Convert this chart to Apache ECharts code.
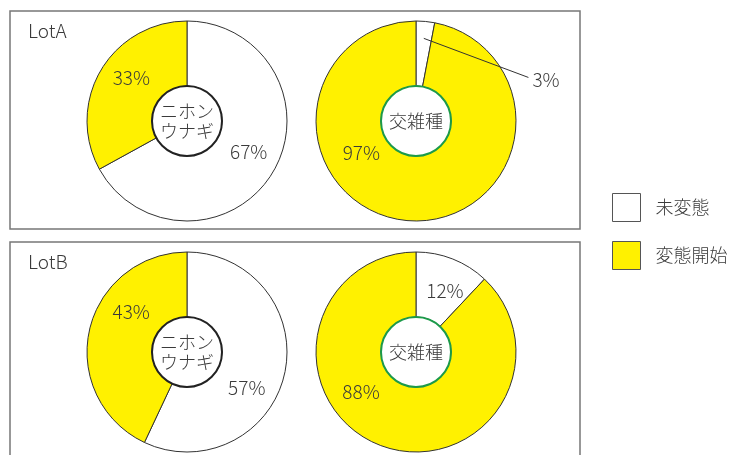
<!DOCTYPE html>
<html>
<head>
<meta charset="utf-8">
<script src="https://cdn.jsdelivr.net/npm/echarts@6/dist/echarts.min.js"></script>
<style>
  html, body { margin: 0; padding: 0; background: #fff; }
  #chart { width: 731px; height: 455px; }
</style>
</head>
<body>
<div id="chart"></div>
<script>
// Metamorphosis status of eels by lot and species (percent of individuals)
const lots = ['LotA', 'LotB'];
const species = ['ニホン\nウナギ', '交雑種'];
const statusNames = ['未変態', '変態開始'];
// values are listed per species: [ニホンウナギ, 交雑種]
const lotANotMetamorphosed = [67, 3];
const lotAMetamorphosing = [33, 97];
const lotBNotMetamorphosed = [57, 12];
const lotBMetamorphosing = [43, 88];

const FONT = '"Noto Sans CJK JP", "Noto Sans", sans-serif';
const TEXT = '#3a3a3a';
const statusColors = ['#ffffff', '#fff100'];
const coreBorders = ['#222222', '#1c9a4a'];

// small nudges for the percentage labels: [dx, dy] per slice
const labelNudges = [
  [[1, -5], [5, -7]],
  [[0, 0], [-48, -38]],
  [[-9, 20], [13, -25]],
  [[3, 4], [-29, -26]]
];
// callout label for thin slices: offset of the text (left, middle) from the slice's outer edge
const CALLOUT_OFFSET = [107, 58];

function midPoint(layout, r) {
  const a = (layout.startAngle + layout.endAngle) / 2;
  return [layout.cx + r * Math.cos(a), layout.cy + r * Math.sin(a)];
}

function ringSeries(center, values, nudges, calloutIndex) {
  return {
    type: 'pie',
    center: center,
    radius: [35, 100],
    startAngle: 90,
    clockwise: true,
    avoidLabelOverlap: false,
    silent: true,
    animation: false,
    itemStyle: { borderColor: '#333', borderWidth: 1 },
    label: {
      show: true, position: 'inside', formatter: '{c}%',
      fontSize: 19, fontWeight: 300, color: TEXT, fontFamily: FONT
    },
    labelLine: { show: false },
    data: statusNames.map((n, i) => {
      const d = { name: n, value: values[i], itemStyle: { color: statusColors[i] } };
      if (i === calloutIndex) d.label = { position: 'outside', distanceToLabelLine: 0 };
      return d;
    }),
    labelLayout: function (p) {
      if (p.dataIndex === calloutIndex && p.labelLinePoints) {
        const p0 = p.labelLinePoints[0];
        const tx = p0[0] + CALLOUT_OFFSET[0], ty = p0[1] + CALLOUT_OFFSET[1];
        return {
          dx: tx - p.labelRect.x,
          dy: ty - (p.labelRect.y + p.labelRect.height / 2)
        };
      }
      const o = nudges[p.dataIndex] || [0, 0];
      return { dx: o[0], dy: o[1] };
    }
  };
}

function coreSeries(center, name, borderColor) {
  return {
    type: 'pie',
    center: center,
    radius: [0, 35],
    silent: true,
    animation: false,
    label: {
      show: true, position: 'center', formatter: '{b}',
      fontSize: 18, fontWeight: 300, lineHeight: 20, color: TEXT, fontFamily: FONT
    },
    labelLine: { show: false },
    itemStyle: { color: '#ffffff', borderColor: borderColor, borderWidth: 2 },
    data: [{ name: name, value: 1 }]
  };
}

const panels = [
  { top: 11, values: [lotANotMetamorphosed, lotAMetamorphosing] },
  { top: 242, values: [lotBNotMetamorphosed, lotBMetamorphosing] }
];
const pieX = [187, 416];

const series = [];
const callouts = [];
panels.forEach((panel, li) => {
  const cy = panel.top + 110;
  species.forEach((sp, si) => {
    const center = [pieX[si], cy];
    const vals = [panel.values[0][si], panel.values[1][si]];
    const callout = (vals[0] < 5) ? 0 : -1;
    if (callout >= 0) callouts.push({ seriesIndex: series.length, dataIndex: callout });
    series.push(ringSeries(center, vals, labelNudges[li * 2 + si], callout));
    series.push(coreSeries(center, sp, coreBorders[si]));
  });
});

const panelFrames = panels.map((panel, i) => ({
  type: 'rect', z: -1,
  shape: { x: 10, y: panel.top, width: 570, height: i === 0 ? 218 : 240 },
  style: { fill: 'none', stroke: '#777', lineWidth: 1.5 }
}));

const chart = echarts.init(document.getElementById('chart'), null, { renderer: 'canvas' });
chart.setOption({
  backgroundColor: '#ffffff',
  animation: false,
  textStyle: { fontFamily: FONT },
  title: lots.map((t, i) => ({
    text: t, left: 28, top: panels[i].top + 10, padding: 0,
    textStyle: { fontSize: 19, fontWeight: 300, color: TEXT, fontFamily: FONT }
  })),
  legend: {
    orient: 'vertical',
    left: 612, top: 193, padding: 0,
    itemWidth: 28, itemHeight: 28, itemGap: 19,
    selectedMode: false,
    icon: 'rect',
    itemStyle: { borderColor: '#555', borderWidth: 1 },
    textStyle: { fontSize: 18, fontWeight: 300, color: TEXT, fontFamily: FONT, padding: [0, 0, 0, 10] },
    data: statusNames.map((n, i) => ({ name: n, itemStyle: { color: statusColors[i] } }))
  },
  graphic: panelFrames,
  series: series
});

// leader lines for thin slices, from inside the slice to its label,
// added straight to the renderer so the label layout is not run twice
const zr = chart.getZr();
callouts.forEach(c => {
  const layout = chart.getModel().getSeriesByIndex(c.seriesIndex).getData().getItemLayout(c.dataIndex);
  const start = midPoint(layout, layout.r - 17);
  const edge = midPoint(layout, layout.r);
  const end = [edge[0] + CALLOUT_OFFSET[0] - 4, edge[1] + CALLOUT_OFFSET[1] - 2];
  zr.add(new echarts.graphic.Line({
    z: 10,
    shape: { x1: start[0], y1: start[1], x2: end[0], y2: end[1] },
    style: { stroke: '#333', lineWidth: 1 }
  }));
});
</script>
</body>
</html>
